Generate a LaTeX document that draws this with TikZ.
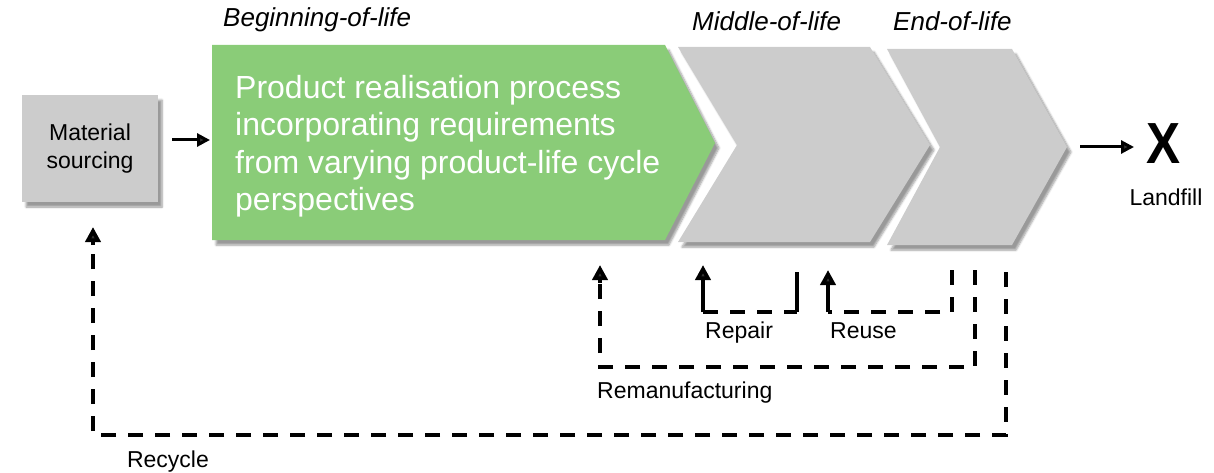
\documentclass[tikz,border=0pt]{standalone}
\usepackage{fontspec}
\setmainfont{Liberation Sans}
\usetikzlibrary{arrows.meta,shadows.blur}
\definecolor{lifegreen}{HTML}{8ACC78}
\definecolor{lifegray}{HTML}{CCCCCC}
\begin{document}
\begin{tikzpicture}[x=1pt,y=-1pt,
  shapeshadow/.style={blur shadow={shadow xshift=4pt,shadow yshift=-5pt,shadow blur steps=6,shadow opacity=40}},
  matbox/.style={fill=lifegray,shapeshadow,minimum width=136pt,minimum height=107pt,align=center,inner sep=0pt,font=\fontsize{23}{28.5}\selectfont},
  phaselabel/.style={anchor=base west,inner sep=0pt,font=\fontsize{26}{30}\itshape},
  smalllabel/.style={inner sep=0pt,font=\fontsize{23}{28}\selectfont},
  flowarrow/.style={line width=3pt,-{Triangle[width=13pt,length=13pt]}},
  loopdash/.style={line width=4.5pt,dash pattern=on 15pt off 12pt},
  loopsolid/.style={line width=4.5pt},
  looptip/.style={-{Triangle[width=15pt,length=15pt]}}
]
\useasboundingbox (0,0) rectangle (1214,473);

% chevrons
\fill[lifegreen,shapeshadow] (212,45) -- (665,45) -- (715,143) -- (665,240) -- (212,240) -- cycle;
\fill[lifegray,shapeshadow] (678,47) -- (870,47) -- (930,145) -- (870,242) -- (678,242) -- (737,145) -- cycle;
\fill[lifegray,shapeshadow] (887,49) -- (1012,49) -- (1067,147) -- (1012,245) -- (887,245) -- (940,147) -- cycle;

% nodes
\node[matbox] (mat) at (90,148.5) {Material\\sourcing};
\node[anchor=north west,align=left,inner sep=0pt,text=white,font=\fontsize{32}{37.5}\selectfont] (prp) at (235,75)
  {Product realisation process\\incorporating requirements\\from varying product-life cycle\\perspectives};

\node[phaselabel] (bol) at (223,27) {Beginning-of-life};
\node[phaselabel] (mol) at (692,31) {Middle-of-life};
\node[phaselabel] (eol) at (893,31) {End-of-life};

\node[inner sep=0pt,xscale=0.88,font=\fontsize{58}{60}\bfseries] (x) at (1164,143.5) {X};
\node[smalllabel,anchor=base] (landfill) at (1166,205) {Landfill};
\node[smalllabel,anchor=base] (recycle) at (168,467) {Recycle};
\node[smalllabel,anchor=base west] (repair) at (705,338) {Repair};
\node[smalllabel,anchor=base west] (reuse) at (830,338) {Reuse};
\node[smalllabel,anchor=base west] (reman) at (597,398) {Remanufacturing};

% anchor coordinates
\coordinate (greenW) at (210,140);
\coordinate (eolTip) at (1067,147);
\coordinate (xW) at (1134,147);

% forward arrows
\draw[flowarrow] ([xshift=14pt]mat.east |- greenW) -- (greenW);
\draw[flowarrow] ([xshift=13pt]eolTip) -- (xW);

% Repair loop
\coordinate (repTip) at (703,265);
\coordinate (repA) at (703,312);
\coordinate (repB) at (797,312);
\coordinate (repS) at (797,272);
\draw[loopsolid,looptip] (repA) -- (repTip);
\draw[loopdash] (repA) -- (repB);
\draw[loopsolid] (repS) -- (repB);

% Reuse loop
\coordinate (reuTip) at (828,270);
\coordinate (reuA) at (828,312);
\coordinate (reuB) at (952,312);
\coordinate (reuS) at (952,270);
\draw[loopsolid,looptip] (reuA) -- (reuTip);
\draw[loopdash] (reuS) -- (reuB) -- (reuA);

% Remanufacturing loop
\coordinate (remTip) at (600,265);
\coordinate (remA) at (600,367);
\coordinate (remB) at (975,367);
\coordinate (remS) at (975,270);
\draw[loopdash] (remS) -- (remB) -- (remA) -- ([yshift=-17pt]remTip);
\draw[loopsolid,looptip] ([yshift=-18pt]remTip) -- (remTip);

% Recycle loop
\coordinate (recTip) at (93,227);
\coordinate (recA) at (93,435);
\coordinate (recB) at (1006,435);
\coordinate (recS) at (1006,272);
\draw[loopdash] (recS) -- (recB) -- (recA) -- ([yshift=-17pt]recTip);
\draw[loopsolid,looptip] ([yshift=-18pt]recTip) -- (recTip);
\end{tikzpicture}
\end{document}
